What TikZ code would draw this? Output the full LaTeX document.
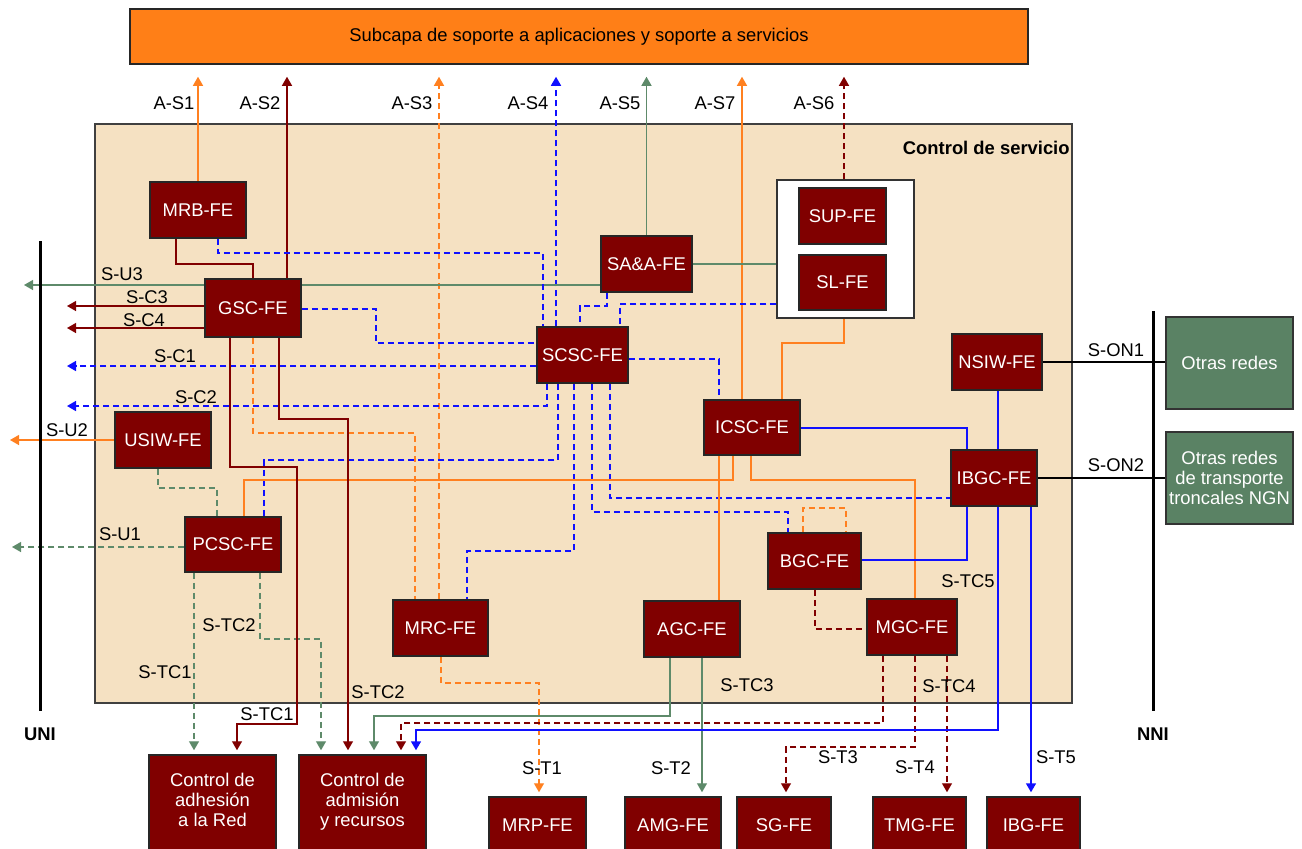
\documentclass[tikz,border=0pt]{standalone}
\usepackage{fontspec}
\setmainfont{Liberation Sans}
\usetikzlibrary{arrows.meta}
\definecolor{feRed}{HTML}{800000}
\definecolor{lnOrange}{HTML}{FF8020}
\definecolor{topOrange}{HTML}{FF7F17}
\definecolor{lnGreen}{HTML}{5E8A6A}
\definecolor{netGreen}{HTML}{5A8264}
\definecolor{lnBlue}{HTML}{1010FF}
\definecolor{scFill}{HTML}{F5E1C2}
\pgfdeclarelayer{areas}
\pgfdeclarelayer{links}
\pgfsetlayers{areas,links,main}
\begin{document}
\begin{tikzpicture}[x=0.5pt,y=-0.5pt,
  font=\fontsize{9.2}{10}\selectfont,
  fe/.style={draw=black!85, line width=0.75pt, fill=feRed, text=white, inner sep=0pt, align=center},
  net/.style={draw=black!80, line width=0.75pt, fill=netGreen, text=white, inner sep=0pt, align=center},
  lbl/.style={inner sep=0pt, text=black},
  conn/.style={line width=0.65pt},
  bconn/.style={line width=0.8pt, draw=lnBlue},
  arr/.style={-{Triangle[length=4.5pt,width=5pt]}},
  dsh/.style={dash pattern=on 3pt off 2pt},
  gap/.style={shorten >=2pt}
]
\useasboundingbox (0,0) rectangle (1302,848);
\clip (0,0) rectangle (1302,848);

% upper layer and service control area
\begin{pgfonlayer}{areas}
\node[draw=black!85, line width=0.75pt, fill=topOrange, minimum width=449pt, minimum height=27.5pt, inner sep=0pt]
  (Top) at (579,36.5) {Subcapa de soporte a aplicaciones y soporte a servicios};
\node[draw=black!75, line width=0.75pt, fill=scFill, minimum width=488.5pt, minimum height=289.5pt, inner sep=0pt]
  (SC) at (583.5,413.5) {};
\node[draw=black!80, line width=0.75pt, fill=white, minimum width=68.5pt, minimum height=69pt, inner sep=0pt]
  (Cont) at (845.5,249) {};
\end{pgfonlayer}
\node[lbl, anchor=east, font=\fontsize{9.2}{10}\selectfont\bfseries] (SCtitle) at (1070,148) {Control de servicio};

% reference points
\draw[line width=1.5pt] (40,241) -- (40,711);
\draw[line width=1.5pt] (1153,311) -- (1153,711);
\node[lbl, font=\fontsize{9.2}{10}\selectfont\bfseries] (UNI) at (40,734) {UNI};
\node[lbl, font=\fontsize{9.2}{10}\selectfont\bfseries] (NNI) at (1153,734) {NNI};

% functional entities
\begin{scope}[every node/.append style={fe}]
\node[minimum width=48pt, minimum height=28pt] (MRB) at (198,210) {MRB-FE};
\node[minimum width=48pt, minimum height=29pt] (GSC) at (253,308) {GSC-FE};
\node[minimum width=45.5pt, minimum height=28pt] (SAA) at (646.5,264) {SA\&A-FE};
\node[minimum width=43.5pt, minimum height=28pt] (SUP) at (842.5,216) {SUP-FE};
\node[minimum width=43.5pt, minimum height=27.5pt] (SL) at (842.5,282.5) {SL-FE};
\node[minimum width=45.5pt, minimum height=28pt] (SCSC) at (582.5,355) {SCSC-FE};
\node[minimum width=45pt, minimum height=28pt] (NSIW) at (997,362) {NSIW-FE};
\node[minimum width=48pt, minimum height=27.5pt] (ICSC) at (752,427.5) {ICSC-FE};
\node[minimum width=48pt, minimum height=28pt] (USIW) at (163,440) {USIW-FE};
\node[minimum width=43pt, minimum height=28pt] (IBGC) at (994,478) {IBGC-FE};
\node[minimum width=48pt, minimum height=27.5pt] (PCSC) at (233,544.5) {PCSC-FE};
\node[minimum width=46.5pt, minimum height=28pt] (BGC) at (814.5,561) {BGC-FE};
\node[minimum width=47.5pt, minimum height=28pt] (MRC) at (440.5,628) {MRC-FE};
\node[minimum width=48pt, minimum height=28pt] (AGC) at (692,629) {AGC-FE};
\node[minimum width=45pt, minimum height=28pt] (MGC) at (912,627) {MGC-FE};
\node[minimum width=63.5pt, minimum height=47.5pt, text depth=2.6pt] (Adh) at (212.5,802.5) {Control de\\adhesión\\a la Red};
\node[minimum width=63.5pt, minimum height=47.5pt, text depth=2.6pt] (Adm) at (362.5,802.5) {Control de\\admisión\\y recursos};
\node[minimum width=48.5pt, minimum height=28pt] (MRP) at (537.5,825) {MRP-FE};
\node[minimum width=48pt, minimum height=28pt] (AMG) at (673,825) {AMG-FE};
\node[minimum width=47pt, minimum height=28pt] (SG) at (784,825) {SG-FE};
\node[minimum width=46.5pt, minimum height=28pt] (TMG) at (919.5,825) {TMG-FE};
\node[minimum width=46.5pt, minimum height=28pt] (IBG) at (1033.5,825) {IBG-FE};
\end{scope}
\node[net, minimum width=63.5pt, minimum height=46pt] (OR1) at (1229.5,363) {Otras redes};
\node[net, minimum width=63.5pt, minimum height=46pt] (OR2) at (1229.5,478) {Otras redes\\de transporte\\troncales NGN};

% free ends of the connectors towards the UNI
\coordinate (eU3) at (24,285);
\coordinate (eC3) at (67,306);
\coordinate (eC4) at (67,328);
\coordinate (eC1) at (67,366);
\coordinate (eC2) at (67,406);
\coordinate (eU2) at (10,440);
\coordinate (eU1) at (12,547);

\begin{pgfonlayer}{links}
% to the upper layer
\draw[conn,arr,lnOrange,shorten >=6pt] (MRB.north) -- (MRB.north |- Top.south);
\draw[conn,arr,feRed,shorten >=6pt] (287,0 |- GSC.north) -- (287,0 |- Top.south);
\draw[conn,arr,lnOrange,dsh,shorten >=6pt] (439,0 |- MRC.north) -- (439,0 |- Top.south);
\draw[bconn,arr,dsh,shorten >=6pt] (556,0 |- SCSC.north) -- (556,0 |- Top.south);
\draw[conn,arr,lnGreen,shorten >=6pt] (SAA.north) -- (SAA.north |- Top.south);
\draw[conn,arr,lnOrange,shorten >=6pt] (742,0 |- ICSC.north) -- (742,0 |- Top.south);
\draw[conn,arr,feRed,dsh,shorten >=6pt] (844,0 |- Cont.north) -- (844,0 |- Top.south);

% towards the UNI
\draw[conn,arr,lnGreen] (SAA.west |- eU3) -- (eU3);
\draw[conn,arr,feRed] (GSC.west |- eC3) -- (eC3);
\draw[conn,arr,feRed] (GSC.west |- eC4) -- (eC4);
\draw[bconn,arr,dsh] (SCSC.west |- eC1) -- (eC1);
\draw[bconn,arr,dsh] (547,0 |- SCSC.south) -- (547,406) -- (eC2);
\draw[conn,arr,lnOrange] (USIW.west) -- (eU2);
\draw[conn,arr,lnGreen,dsh] (PCSC.west |- eU1) -- (eU1);

% blue dashed signalling around SCSC-FE
\draw[bconn,dsh] (218,0 |- MRB.south) -- (218,253) -- (543,253) -- (543,0 |- SCSC.north);
\draw[bconn,dsh] (GSC.east |- 0,309) -- (376,309) -- (376,343) -- (SCSC.west |- 0,343);
\draw[bconn,dsh] (607,0 |- SAA.south) -- (607,306) -- (580,306) -- (580,0 |- SCSC.north);
\draw[bconn,dsh] (Cont.west |- 0,304) -- (620,304) -- (620,0 |- SCSC.north);
\draw[bconn,dsh] (SCSC.east |- 0,359) -- (719,359) -- (719,0 |- ICSC.north);
\draw[bconn,dsh] (558,0 |- SCSC.south) -- (558,460) -- (264,460) -- (264,0 |- PCSC.north);
\draw[bconn,dsh] (574,0 |- SCSC.south) -- (574,551) -- (467,551) -- (467,0 |- MRC.north);
\draw[bconn,dsh] (592,0 |- SCSC.south) -- (592,512) -- (788,512) -- (788,0 |- BGC.north);
\draw[bconn,dsh] (610,0 |- SCSC.south) -- (610,498) -- (IBGC.west |- 0,498);

% green links
\draw[conn,lnGreen] (SAA.east) -- (Cont.west |- SAA.east);
\draw[conn,lnGreen,dsh] (158,0 |- USIW.south) -- (158,488) -- (217,488) -- (217,0 |- PCSC.north);
\draw[conn,arr,lnGreen,dsh,gap] (194,0 |- PCSC.south) -- (194,0 |- Adh.north);
\draw[conn,arr,lnGreen,dsh,gap] (260,0 |- PCSC.south) -- (260,639) -- (321,639) -- (321,0 |- Adm.north);
\draw[conn,arr,lnGreen,gap] (670,0 |- AGC.south) -- (670,716) -- (374,716) -- (374,0 |- Adm.north);
\draw[conn,arr,lnGreen,gap] (702,0 |- AGC.south) -- (702,0 |- AMG.north);

% orange links
\draw[conn,lnOrange] (844,0 |- Cont.south) -- (844,343) -- (782,343) -- (782,0 |- ICSC.north);
\draw[conn,lnOrange] (733,0 |- ICSC.south) -- (733,480) -- (244,480) -- (244,0 |- PCSC.north);
\draw[conn,lnOrange] (751,0 |- ICSC.south) -- (751,480) -- (915,480) -- (915,0 |- MGC.north);
\draw[conn,lnOrange] (719,0 |- ICSC.south) -- (719,0 |- AGC.north);
\draw[conn,lnOrange,dsh] (253,0 |- GSC.south) -- (253,433) -- (415,433) -- (415,0 |- MRC.north);
\draw[conn,lnOrange,dsh] (803,0 |- BGC.north) -- (803,508) -- (846,508) -- (846,0 |- BGC.north);
\draw[conn,arr,lnOrange,dsh,gap] (441,0 |- MRC.south) -- (441,683) -- (539,683) -- (539,0 |- MRP.north);

% dark red links
\draw[conn,feRed] (176,0 |- MRB.south) -- (176,264) -- (253,264) -- (253,0 |- GSC.north);
\draw[conn,arr,feRed,gap] (230,0 |- GSC.south) -- (230,467) -- (297,467) -- (297,724) -- (237,724) -- (237,0 |- Adh.north);
\draw[conn,arr,feRed,gap] (279,0 |- GSC.south) -- (279,419) -- (348,419) -- (348,0 |- Adm.north);
\draw[conn,feRed,dsh] (815,0 |- BGC.south) -- (815,629) -- (MGC.west |- 0,629);
\draw[conn,arr,feRed,dsh,gap] (883,0 |- MGC.south) -- (883,723) -- (401,723) -- (401,0 |- Adm.north);
\draw[conn,arr,feRed,dsh,gap] (915,0 |- MGC.south) -- (915,747) -- (786,747) -- (786,0 |- SG.north);
\draw[conn,arr,feRed,dsh,gap] (947,0 |- MGC.south) -- (947,0 |- TMG.north);

% blue solid links
\draw[bconn] (ICSC.east |- 0,428) -- (967,428) -- (967,0 |- IBGC.north);
\draw[bconn] (998,0 |- NSIW.south) -- (998,0 |- IBGC.north);
\draw[bconn] (BGC.east |- 0,560) -- (967,560) -- (967,0 |- IBGC.south);
\draw[bconn,arr,gap] (998,0 |- IBGC.south) -- (998,730) -- (416,730) -- (416,0 |- Adm.north);
\draw[bconn,arr,gap] (1031,0 |- IBGC.south) -- (1031,0 |- IBG.north);

% links to other networks
\draw[conn,black] (NSIW.east) -- (NSIW.east -| OR1.west);
\draw[conn,black] (IBGC.east) -- (IBGC.east -| OR2.west);
\end{pgfonlayer}

% interface labels
\node[lbl] (lAS1) at (174,103) {A-S1};
\node[lbl] (lAS2) at (260,103) {A-S2};
\node[lbl] (lAS3) at (412,103) {A-S3};
\node[lbl] (lAS4) at (528,103) {A-S4};
\node[lbl] (lAS5) at (620,103) {A-S5};
\node[lbl] (lAS7) at (715,103) {A-S7};
\node[lbl] (lAS6) at (814,103) {A-S6};
\node[lbl] (lSU3) at (122,274) {S-U3};
\node[lbl] (lSC3) at (147,297) {S-C3};
\node[lbl] (lSC4) at (144,320) {S-C4};
\node[lbl] (lSC1) at (175,356) {S-C1};
\node[lbl] (lSC2) at (196,397) {S-C2};
\node[lbl] (lSU2) at (67,430) {S-U2};
\node[lbl] (lSU1) at (120,534) {S-U1};
\node[lbl] (lSTC2a) at (229,625) {S-TC2};
\node[lbl] (lSTC1a) at (165,672) {S-TC1};
\node[lbl] (lSTC1b) at (267,714) {S-TC1};
\node[lbl] (lSTC2b) at (378,692) {S-TC2};
\node[lbl] (lST1) at (542,768) {S-T1};
\node[lbl] (lST2) at (671,768) {S-T2};
\node[lbl] (lSTC3) at (747,685) {S-TC3};
\node[lbl] (lST3) at (838,757) {S-T3};
\node[lbl] (lST4) at (915,767) {S-T4};
\node[lbl] (lSTC4) at (949,686) {S-TC4};
\node[lbl] (lSTC5) at (968,581) {S-TC5};
\node[lbl] (lST5) at (1056,757) {S-T5};
\node[lbl] (lSON1) at (1116,350) {S-ON1};
\node[lbl] (lSON2) at (1116,465) {S-ON2};
\end{tikzpicture}
\end{document}
